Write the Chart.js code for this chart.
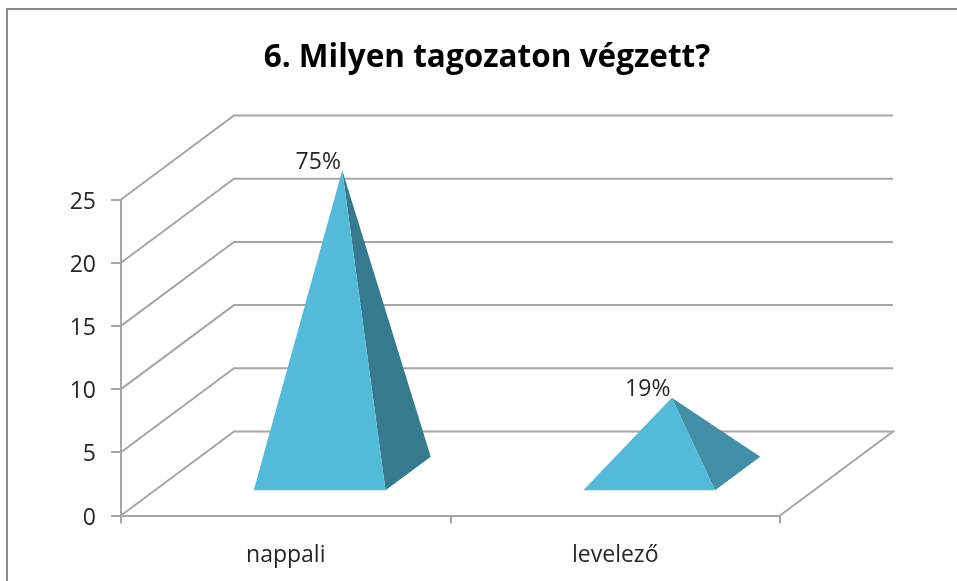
<!DOCTYPE html>
<html>
<head>
<meta charset="utf-8">
<style>
  html, body { margin: 0; padding: 0; background: #fff; }
  #wrap { position: absolute; left: 0; top: 0; width: 957px; height: 581px; }
</style>
<script src="https://cdn.jsdelivr.net/npm/chart.js@4"></script>
</head>
<body>
<div id="wrap"><canvas id="chart" width="957" height="581"></canvas></div>
<script>
const categories = ['nappali', 'levelező'];
const values = [24, 6];
const pointLabels = ['75%', '19%'];
const chartTitle = '6. Milyen tagozaton végzett?';

const gridColor = '#a6a6a6';
const frontColor = '#53bbd9';
const sideColors = ['#357a8e', '#418fa6'];
const depthX = 113;
const depthY = -84;
const fontName = '"Open Sans", "Noto Sans", sans-serif';

// draws the chart border, the floor and wall lines that Chart.js has no 3D option for
const wallsPlugin = {
    id: 'walls',
    beforeDraw(chart) {
        const c = chart.ctx;
        const x = chart.scales.x;
        const y = chart.scales.y;
        c.save();
        c.strokeStyle = '#8c8c8c';
        c.lineWidth = 2;
        c.strokeRect(7, 9, 1000, 700);
        c.strokeStyle = gridColor;
        y.ticks.forEach(t => {
            const py = y.getPixelForValue(t.value);
            c.beginPath();
            c.moveTo(x.left, py);
            c.lineTo(x.left + depthX, py + depthY);
            c.lineTo(x.right + depthX, py + depthY);
            if (t.value === 0) c.lineTo(x.right, py);
            c.stroke();
        });
        c.restore();
    }
};

// pyramids, positioned from the bar elements Chart.js computed
const pyramidPlugin = {
    id: 'pyramids',
    afterDatasetsDraw(chart) {
        const c = chart.ctx;
        const y = chart.scales.y;
        const base = y.getPixelForValue(0);
        const unit = chart.scales.x.width / categories.length;
        chart.getDatasetMeta(0).data.forEach((bar, i) => {
            const half = unit * 0.2;
            const left = bar.x - half + 0.3 * depthX;
            const right = bar.x + half + 0.3 * depthX;
            const frontY = base + 0.3 * depthY;
            const backX = right + 0.4 * depthX;
            const backY = frontY + 0.4 * depthY;
            const apexX = (left + backX) / 2;
            const apexY = (frontY + backY) / 2 - (base - y.getPixelForValue(values[i]));
            c.fillStyle = sideColors[i];
            c.beginPath();
            c.moveTo(right, frontY);
            c.lineTo(backX, backY);
            c.lineTo(apexX, apexY);
            c.closePath();
            c.fill();
            c.fillStyle = frontColor;
            c.beginPath();
            c.moveTo(left, frontY);
            c.lineTo(right, frontY);
            c.lineTo(apexX, apexY);
            c.closePath();
            c.fill();
            c.fillStyle = '#262626';
            c.font = '23px ' + fontName;
            c.textAlign = 'center';
            c.textBaseline = 'alphabetic';
            c.fillText(pointLabels[i], apexX - 24, apexY - 1.5);
        });
    }
};

new Chart(document.getElementById('chart').getContext('2d'), {
    type: 'bar',
    data: {
        labels: categories,
        datasets: [{
            data: values,
            backgroundColor: 'rgba(0,0,0,0)',
            borderWidth: 0
        }]
    },
    options: {
        responsive: false,
        animation: false,
        events: [],
        layout: { padding: { left: 17, right: 0, top: 0, bottom: 0 } },
        plugins: {
            legend: { display: false },
            tooltip: { enabled: false },
            title: {
                display: true,
                text: chartTitle,
                color: '#000',
                font: { family: fontName, size: 31.5, weight: 'bold' },
                padding: { top: 39, bottom: 122.7 }
            }
        },
        scales: {
            x: {
                afterFit(scale) { scale.height = 65.5; },
                grid: { color: gridColor, lineWidth: 2, drawOnChartArea: false, tickLength: 8, offset: true },
                border: { color: gridColor, width: 2 },
                ticks: { color: '#262626', font: { family: fontName, size: 23 }, padding: 18 }
            },
            y: {
                min: 0,
                max: 25,
                afterFit(scale) { scale.width = 104; },
                grid: { color: gridColor, lineWidth: 2, drawOnChartArea: false, tickLength: 10 },
                border: { color: gridColor, width: 2 },
                ticks: { stepSize: 5, color: '#262626', font: { family: fontName, size: 23 }, padding: 15, labelOffset: 2.5 }
            },
            // empty axis, only keeps the room right of the plot for the depth lines
            spacer: {
                type: 'linear',
                position: 'right',
                afterFit(scale) { scale.width = 177; },
                grid: { display: false },
                border: { display: false },
                ticks: { display: false }
            }
        }
    },
    plugins: [wallsPlugin, pyramidPlugin]
});
</script>
</body>
</html>
